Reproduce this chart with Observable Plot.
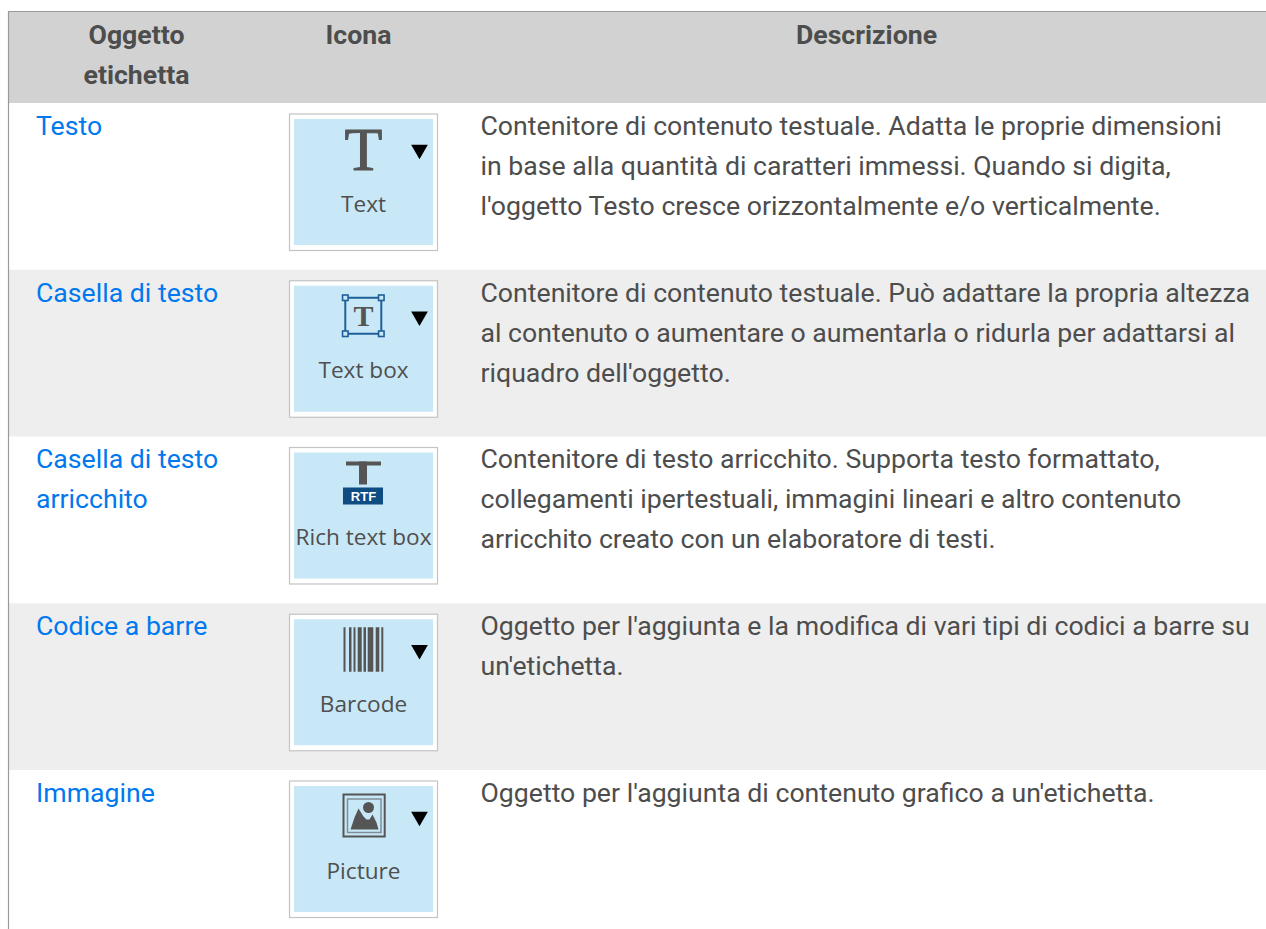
<!DOCTYPE html>
<html><head><meta charset="utf-8">
<style>html,body{margin:0;padding:0;background:#fff;overflow:hidden}svg{display:block}</style>
<script src="https://cdn.jsdelivr.net/npm/d3@7"></script>
<script src="https://cdn.jsdelivr.net/npm/@observablehq/plot@0.6"></script>
</head><body><div id="app"></div>
<script>
// ---- content
const headers = ["Oggetto\netichetta", "Icona", "Descrizione"];
const objects = ["Testo", "Casella di testo", "Casella di testo\narricchito", "Codice a barre", "Immagine"];
const iconLabels = ["Text", "Text box", "Rich text box", "Barcode", "Picture"];
const hasArrow = [true, true, false, true, true];
const descriptions = [
  "Contenitore di contenuto testuale. Adatta le proprie dimensioni\nin base alla quantità di caratteri immessi. Quando si digita,\nl'oggetto Testo cresce orizzontalmente e/o verticalmente.",
  "Contenitore di contenuto testuale. Può adattare la propria altezza\nal contenuto o aumentare o aumentarla o ridurla per adattarsi al\nriquadro dell'oggetto.",
  "Contenitore di testo arricchito. Supporta testo formattato,\ncollegamenti ipertestuali, immagini lineari e altro contenuto\narricchito creato con un elaboratore di testi.",
  "Oggetto per l'aggiunta e la modifica di vari tipi di codici a barre su\nun'etichetta.",
  "Oggetto per l'aggiunta di contenuto grafico a un'etichetta."
];
// barcode stripes: [offset, width]
const barStarts = [0, 5.5, 10, 14.2, 20, 24.2, 32.2, 37.8];
const barWidths = [2, 2.5, 2, 4, 2.5, 5.6, 3.6, 2];

// ---- layout
const W = 1266, H = 929;
const tableLeft = 8, tableTop = 11, headerBottom = 103, rowH = 166.75;
const rowTop = i => headerBottom + i * rowH;
const rows = d3.range(objects.length);
const ink = "#4d4d4d", glyph = "#555555", sky = "#c9e8f7", link = "#0078ee", font = "Roboto";
const boxX1 = 289.5, boxX2 = 437.5, iconCx = 363, fs = 26.67, lh = 40 / 26.67;
const at = (i, dy) => rowTop(i) + dy;

const sq = (cx, cy, s) => ({x1: cx - s/2, x2: cx + s/2, y1: cy - s/2, y2: cy + s/2});
const handles = [[345.3,28],[381.3,28],[345.3,64],[381.3,64]].map(([x,y]) => sq(x, at(1,y), 5.5));
const bars = barStarts.map((s,k) => ({x1: 343.5+s, x2: 343.5+s+barWidths[k], y1: at(3,24), y2: at(3,68.5)}));
const mountain = [[350,59],[354,47],[358,38],[363,46],[366,49],[369,49],[372,44],[376,52],[378,59],[350,59]]
  .map(([x,y]) => ({x, y: at(4,y)}));

const rect = (d, o) => Plot.rect(d, {x1:"x1", x2:"x2", y1:"y1", y2:"y2", ...o});

const plot = Plot.plot({
  width: W, height: H, margin: 0,
  x: {domain:[0,W], range:[0,W], axis:null},
  y: {domain:[0,H], range:[0,H], axis:null},
  style: {background:"#fff", fontFamily: font},
  marks: [
    // header + alternate row shading
    rect([{x1:tableLeft,x2:W,y1:tableTop,y2:headerBottom}], {fill:"#d2d2d2"}),
    rect(rows.filter(i => i%2).map(i => ({x1:tableLeft,x2:W,y1:rowTop(i),y2:rowTop(i+1)})), {fill:"#eeeeee"}),
    Plot.ruleX([tableLeft], {y1:tableTop, y2:H, stroke:"#9a9a9a", strokeWidth:1.2}),
    Plot.ruleY([tableTop], {x1:tableLeft, x2:W, stroke:"#9a9a9a", strokeWidth:1.2}),
    // header text
    Plot.text(headers, {x:(d,i)=>[136,358,866][i], y:15, text:d=>d, textAnchor:"middle", lineAnchor:"top",
      fontSize:fs, fontWeight:700, fill:ink, lineHeight:lh}),
    // first column
    Plot.text(objects, {x:35.5, y:(d,i)=>at(i,3), text:d=>d, textAnchor:"start", lineAnchor:"top",
      fontSize:fs, fill:link, lineHeight:lh}),
    // descriptions
    Plot.text(descriptions, {x:480, y:(d,i)=>at(i,3), text:d=>d, textAnchor:"start", lineAnchor:"top",
      fontSize:fs, fill:ink, lineHeight:lh}),
    // icon frames
    rect(rows.map(i => ({x1:boxX1,x2:boxX2,y1:at(i,11),y2:at(i,147.5)})), {fill:"#fff", stroke:"#c4c4c4", strokeWidth:1.2}),
    rect(rows.map(i => ({x1:294,x2:433,y1:at(i,16),y2:at(i,142)})), {fill:sky}),
    // icon labels
    Plot.text(iconLabels, {x:iconCx, y:(d,i)=>at(i,108), text:d=>d, textAnchor:"middle", lineAnchor:"bottom",
      fontFamily:"Open Sans", fontSize:22.6, fill:"#4f4f4f"}),
    // dropdown arrows
    Plot.dot(rows.filter(i => hasArrow[i]), {x:419, y:i=>at(i,46), symbol:"triangle", r:6.2, fill:"#000", stroke:"none", rotate:180}),
    // Text glyph
    Plot.text(["T"], {x:iconCx, y:at(0,66), text:d=>d, textAnchor:"middle", lineAnchor:"bottom",
      fontFamily:"Liberation Serif", fontSize:62, fill:glyph, stroke:glyph, strokeWidth:1}),
    // Text box glyph
    rect([{x1:345.3,x2:381.3,y1:at(1,28),y2:at(1,64)}], {fill:"none", stroke:"#1f5f99", strokeWidth:2}),
    rect(handles, {fill:sky, stroke:"#1f5f99", strokeWidth:1.6}),
    Plot.text(["T"], {x:iconCx, y:at(1,46), text:d=>d, textAnchor:"middle", lineAnchor:"middle",
      fontFamily:"Liberation Serif", fontWeight:700, fontSize:30, fill:glyph}),
    // Rich text glyph
    rect([{x1:346,x2:381,y1:at(2,25),y2:at(2,29)},{x1:359,x2:367,y1:at(2,25),y2:at(2,48)}], {fill:glyph}),
    rect([{x1:343,x2:383,y1:at(2,51),y2:at(2,68)}], {fill:"#0f4c81"}),
    Plot.text(["RTF"], {x:iconCx, y:at(2,60), text:d=>d, textAnchor:"middle", lineAnchor:"middle",
      fontFamily:"Liberation Sans", fontWeight:700, fontSize:13, fill:"#fff", style:{letterSpacing:"1px"}}),
    // Barcode glyph
    rect(bars, {fill:glyph}),
    // Picture glyph
    rect([{x1:343.5,x2:384.7,y1:at(4,24.5),y2:at(4,66.5)}], {fill:"none", stroke:glyph, strokeWidth:2}),
    rect([{x1:347.5,x2:381,y1:at(4,29),y2:at(4,62.5)}], {fill:"none", stroke:"#7f8e96", strokeWidth:1.5}),
    Plot.line(mountain, {x:"x", y:"y", fill:glyph, stroke:"none"}),
    Plot.dot([0], {x:368, y:at(4,37), r:5.5, fill:glyph, stroke:"none"})
  ]
});
document.getElementById("app").append(plot);
</script></body></html>
